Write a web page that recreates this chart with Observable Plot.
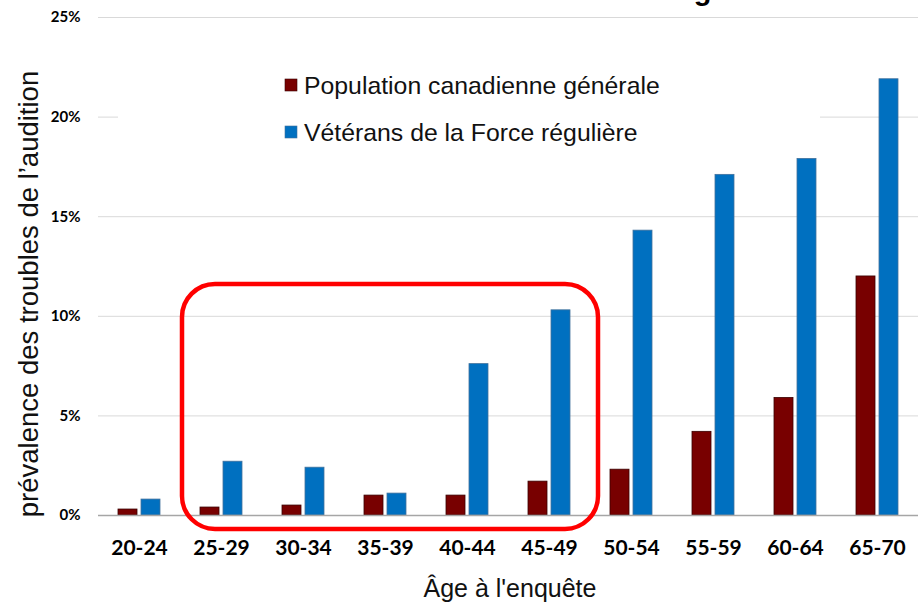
<!DOCTYPE html>
<html><head><meta charset="utf-8">
<script src="https://cdn.jsdelivr.net/npm/d3@7"></script>
<script src="https://cdn.jsdelivr.net/npm/@observablehq/plot@0.6"></script>
<style>
body{margin:0;background:#fff;}
#chart{position:relative;width:921px;height:603px;overflow:hidden;background:#fff;}
#chart svg{display:block;}
</style></head><body><div id="chart"></div>
<script>
const ages = ["20-24","25-29","30-34","35-39","40-44","45-49","50-54","55-59","60-64","65-70"];
const populationGenerale = [0.3,0.4,0.5,1.0,1.0,1.7,2.3,4.2,5.9,12.0];
const veteransForceReguliere = [0.8,2.7,2.4,1.1,7.6,10.3,14.3,17.1,17.9,21.9];
const seriesNames = ["Population canadienne générale","Vétérans de la Force régulière"];
const seriesColors = ["#780000","#0070c0"];
const seriesStrokes = ["#3a0000","#41719c"];
const yTicks = [0,5,10,15,20,25];
const highlightAges = ["25-29","45-49"];
const highlightRange = [-0.7, 11.6];
const titleText = "Troubles de l'audition selon l'âge";
const yLabel = "prévalence des troubles de l’audition";
const xLabel = "Âge à l'enquête";

const popData = ages.map((a,i)=>({age:a, value:populationGenerale[i]}));
const vetData = ages.map((a,i)=>({age:a, value:veteransForceReguliere[i]}));

const plot = Plot.plot({
  width: 921, height: 603,
  marginLeft: 98, marginRight: 3, marginTop: 17, marginBottom: 88,
  style: {fontFamily: "Lato, sans-serif", background: "white", color: "black", overflow: "visible"},
  x: {domain: ages, padding: 0, label: null},
  y: {domain: [0, 25], label: null},
  marks: [
    Plot.ruleY(yTicks.filter(d => d > 0), {stroke: "#d9d9d9", strokeWidth: 1}),
    Plot.barY(popData, {x: "age", y: "value", fill: seriesColors[0], stroke: seriesStrokes[0], strokeWidth: 0.8, insetLeft: 20, insetRight: 43}),
    Plot.barY(vetData, {x: "age", y: "value", fill: seriesColors[1], stroke: seriesStrokes[1], strokeWidth: 0.8, insetLeft: 43, insetRight: 20}),
    Plot.ruleY([0], {stroke: "#a6a6a6", strokeWidth: 1.5}),
    Plot.axisY(yTicks, {tickSize: 0, tickPadding: 18, tickFormat: d => d + "%", fontSize: 15, fontWeight: "bold", label: null}),
    Plot.axisX({tickSize: 0, tickPadding: 25, fontSize: 21, fontWeight: "bold", label: null})
  ]
});
document.getElementById("chart").appendChild(plot);

const svg = d3.select(plot);
const xs = plot.scale("x"), ys = plot.scale("y");
const xScale = d3.scaleBand(xs.domain, xs.range)
  .paddingInner(xs.paddingInner ?? 0).paddingOuter(xs.paddingOuter ?? 0).align(xs.align ?? 0.5);
const yScale = d3.scaleLinear(ys.domain, ys.range);

const textFont = "'Liberation Sans', Arial, sans-serif";

// legend (white box masks the gridline, as in the original)
const lg = svg.append("g").attr("font-family", textFont).attr("text-anchor", "start");
lg.append("rect").attr("x", 118).attr("y", 58).attr("width", 702).attr("height", 96).attr("fill", "white");
seriesNames.forEach((name, i) => {
  const cy = 85 + i * 47;
  lg.append("rect").attr("x", 285).attr("y", cy - 6).attr("width", 12).attr("height", 12)
    .attr("fill", seriesColors[i]).attr("stroke", seriesStrokes[i]).attr("stroke-width", 0.6);
  lg.append("text").attr("x", 304).attr("y", cy + 8.8).attr("text-anchor", "start")
    .attr("font-size", 24.8).attr("fill", "#111").text(name);
});

// highlight box
const hx1 = xScale(highlightAges[0]) + 2;
const hx2 = xScale(highlightAges[1]) + xScale.bandwidth() + 8;
const hy1 = yScale(highlightRange[1]);
const hy2 = yScale(highlightRange[0]);
svg.append("rect").attr("x", hx1).attr("y", hy1).attr("width", hx2 - hx1).attr("height", hy2 - hy1)
  .attr("rx", 33).attr("ry", 33).attr("fill", "none").attr("stroke", "#ff0000").attr("stroke-width", 4.5);

// title (cut off at the top, as in the source)
svg.append("text").attr("x", 500).attr("y", -0.5).attr("text-anchor", "middle")
  .attr("font-family", textFont).attr("font-weight", "bold").attr("font-size", 29)
  .attr("fill", "black").text(titleText);

// axis titles
svg.append("text").attr("transform", "translate(38,294) rotate(-90)").attr("text-anchor", "middle")
  .attr("font-family", textFont).attr("font-size", 27.5).attr("fill", "#111").text(yLabel);
svg.append("text").attr("x", 510).attr("y", 597).attr("text-anchor", "middle")
  .attr("font-family", textFont).attr("font-size", 25).attr("fill", "#111").text(xLabel);
</script>
</body></html>
